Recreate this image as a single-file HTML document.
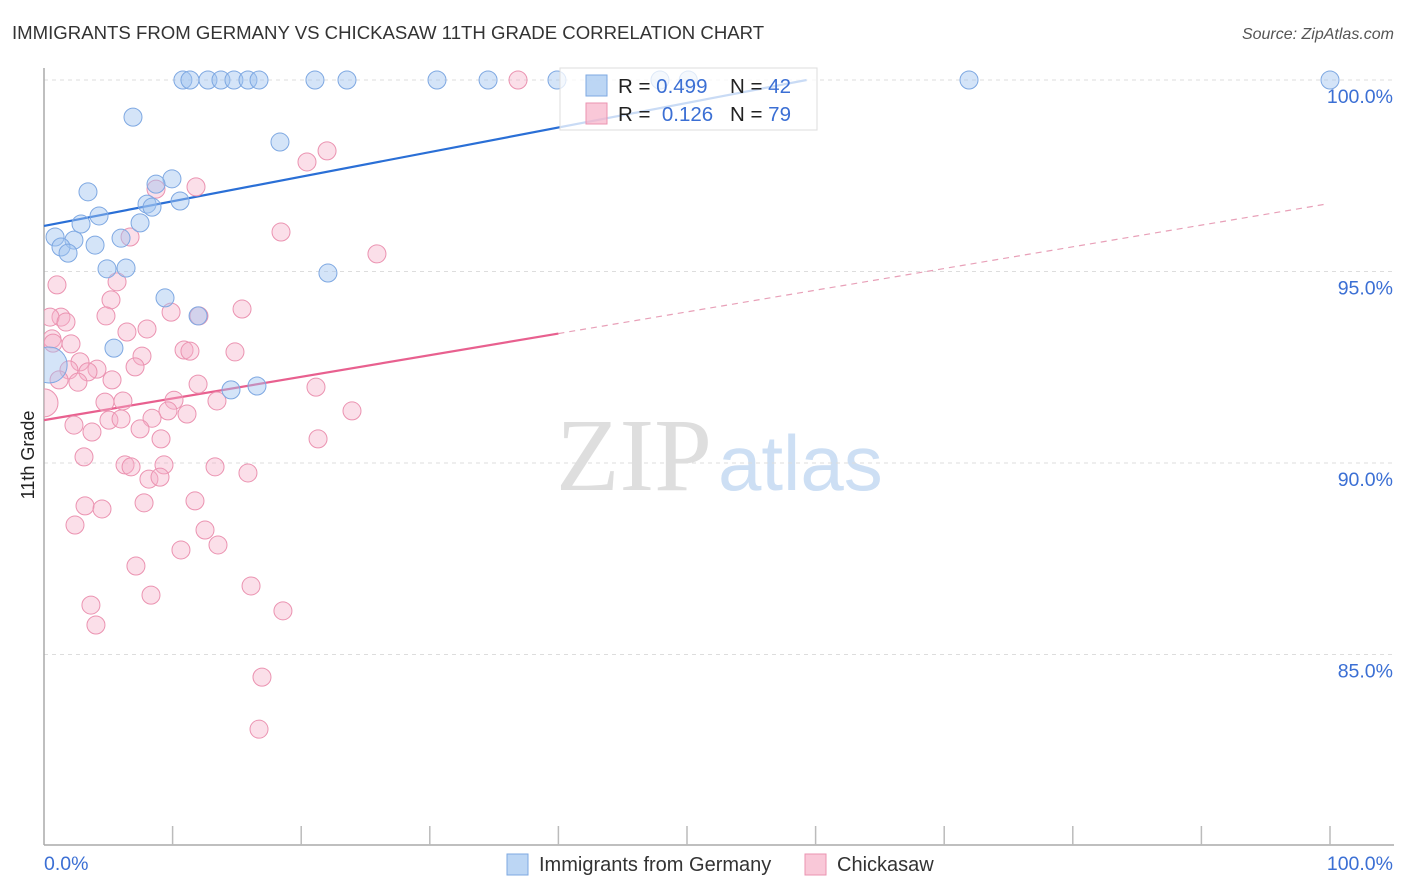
<!DOCTYPE html>
<html><head><meta charset="utf-8">
<style>
body{margin:0;background:#fff;font-family:"Liberation Sans",sans-serif;}
#wrap{position:relative;width:1406px;height:892px;overflow:hidden;}
svg{position:absolute;left:0;top:0;}
</style></head>
<body>
<div id="wrap">
<svg id="chart" width="1406" height="892">
  <defs><clipPath id="plotclip"><rect x="44" y="0" width="1362" height="845"/></clipPath></defs>
  <text x="12" y="39" font-size="18.6" fill="#333">IMMIGRANTS FROM GERMANY VS CHICKASAW 11TH GRADE CORRELATION CHART</text>
  <text x="1394" y="39" font-size="16" fill="#555" font-style="italic" text-anchor="end">Source: ZipAtlas.com</text>
  <text x="634" y="490" font-size="104" fill="#dedede" font-family="Liberation Serif, serif" text-anchor="middle">ZIP</text>
  <text x="718" y="490" font-size="78" fill="#cddff4">atlas</text>
  <text transform="translate(34,455) rotate(-90)" font-size="18" fill="#222" text-anchor="middle">11th Grade</text>
  <g id="grid"></g>
  <g id="axes"></g>
  <g id="lines"></g>
  <g id="points" clip-path="url(#plotclip)"></g>
  <g id="legend"></g>
</svg>
</div>
<script>
const blueX=[10.8,11.35,12.75,13.76,14.77,15.86,16.72,21.07,23.56,30.56,34.53,39.89,47.9,50.1,71.93,100,6.92,18.35,9.95,8.71,8.01,10.58,8.40,3.42,4.28,2.88,7.47,0.86,2.33,1.32,1.87,3.97,5.99,4.90,6.38,22.08,9.41,11.98,5.44,14.54,16.56,0.4];
const blueY=[100,100,100,100,100,100,100,100,100,100,100,100,100,100,100,100,99.03,98.38,97.42,97.28,96.76,96.84,96.68,97.08,96.45,96.24,96.27,95.90,95.82,95.64,95.48,95.69,95.87,95.07,95.09,94.96,94.31,93.84,93.00,91.91,92.01,92.56];
const blueR=[9,9,9,9,9,9,9,9,9,9,9,9,9,9,9,9,9,9,9,9,9,9,9,9,9,9,9,9,9,9,9,9,9,9,9,9,9,9,9,9,9,18];
const pinkX=[20.45,22.01,11.82,8.71,6.69,18.43,25.89,1.01,5.68,5.21,4.82,1.32,0.47,1.71,9.88,12.05,15.40,6.45,8.01,0.62,2.10,0.70,10.89,11.35,14.85,7.62,7.08,2.80,4.12,3.42,1.94,5.29,1.17,2.64,11.98,21.15,0.0,4.74,6.14,10.11,13.45,9.64,11.12,8.40,5.05,5.99,2.33,7.47,3.73,23.95,9.10,21.31,3.11,6.30,6.77,9.33,8.16,9.02,13.30,15.86,3.19,4.51,7.78,11.74,2.41,12.52,13.53,10.65,7.15,8.32,16.10,18.58,3.65,4.04,16.95,16.72,36.86];
const pinkY=[97.86,98.15,97.21,97.15,95.90,96.03,95.46,94.65,94.73,94.26,93.84,93.81,93.81,93.68,93.94,93.84,94.02,93.42,93.50,93.24,93.11,93.13,92.95,92.92,92.90,92.79,92.51,92.64,92.45,92.38,92.43,92.17,92.17,92.11,92.06,91.98,91.57,91.59,91.62,91.64,91.62,91.36,91.28,91.17,91.12,91.15,90.99,90.89,90.81,91.36,90.63,90.63,90.16,89.95,89.90,89.95,89.58,89.63,89.90,89.74,88.88,88.80,88.96,89.01,88.38,88.25,87.86,87.73,87.31,86.55,86.79,86.14,86.29,85.77,84.41,83.05,100];
const yTicks=[100,95,90,85];
const yTickLabels=["100.0%","95.0%","90.0%","85.0%"];
const blueLine=[[0,96.19],[59.3,100]];
const pinkLine=[[0,91.12],[40,93.38],[99.7,96.76]];

const NS="http://www.w3.org/2000/svg";
const xs=v=>44+v*12.86;
const ys=v=>80+(100-v)*38.3;
function mk(tag,attrs,parent){const e=document.createElementNS(NS,tag);for(const k in attrs)e.setAttribute(k,attrs[k]);parent.appendChild(e);return e;}
const grid=document.getElementById('grid'),axes=document.getElementById('axes'),lines=document.getElementById('lines'),pts=document.getElementById('points'),leg=document.getElementById('legend');

yTicks.forEach((t,i)=>{
  const l=mk('line',{x1:44,x2:1394,y1:ys(t),y2:ys(t),stroke:'#ddd','stroke-dasharray':'4,4'},grid);
  
  
  const tx=mk('text',{x:1393,y:ys(t)+23,'font-size':19.5,fill:'#3b6fd4','text-anchor':'end'},grid);
  tx.textContent=yTickLabels[i];
  
  
});
const ya=mk('line',{x1:44,x2:44,y1:68,y2:845,stroke:'#aaa','stroke-width':1.5},axes);


const xa=mk('line',{x1:44,x2:1394,y1:845,y2:845,stroke:'#aaa','stroke-width':1.5},axes);


for(let i=1;i<=10;i++){
  const t=mk('line',{x1:xs(i*10),x2:xs(i*10),y1:826,y2:845,stroke:'#bbb','stroke-width':1.5},axes);
  
  
}
const x0=mk('text',{x:44,y:870,'font-size':19.5,fill:'#3b6fd4'},axes);x0.textContent='0.0%';


const x1=mk('text',{x:1393,y:870,'font-size':19.5,fill:'#3b6fd4','text-anchor':'end'},axes);x1.textContent='100.0%';



pinkX.forEach((x,i)=>{
  const c=mk('circle',{cx:xs(x),cy:ys(pinkY[i]),r:i==36?14:9,fill:'rgba(246,176,200,0.4)',stroke:'#eb93b1','stroke-width':1},pts);
  
  
});
blueX.forEach((x,i)=>{
  const c=mk('circle',{cx:xs(x),cy:ys(blueY[i]),r:blueR[i],fill:'rgba(160,196,240,0.45)',stroke:'#7ea8e2','stroke-width':1},pts);
  
  
});
const bl=mk('line',{x1:xs(blueLine[0][0]),y1:ys(blueLine[0][1]),x2:xs(blueLine[1][0]),y2:ys(blueLine[1][1]),stroke:'#2a6fd6','stroke-width':2.2},lines);


const pl=mk('line',{x1:xs(pinkLine[0][0]),y1:ys(pinkLine[0][1]),x2:xs(pinkLine[1][0]),y2:ys(pinkLine[1][1]),stroke:'#e8608f','stroke-width':2.2},lines);


const pd=mk('line',{x1:xs(pinkLine[1][0]),y1:ys(pinkLine[1][1]),x2:xs(pinkLine[2][0]),y2:ys(pinkLine[2][1]),stroke:'#e8a0b8','stroke-width':1.2,'stroke-dasharray':'6,5'},lines);



const lb=mk('rect',{x:560,y:68,width:257,height:62,fill:'rgba(255,255,255,0.75)',stroke:'#ddd'},leg);


[[0,'rgba(160,196,240,0.7)','#7ea8e2','0.499','42'],[1,'rgba(246,176,200,0.7)','#eb93b1','0.126','79']].forEach(([k,f,s,r,n])=>{
  const y=75+k*28;
  const sq=mk('rect',{x:586,y:y,width:21,height:21,fill:f,stroke:s},leg);
  
  
  const t=mk('text',{x:618,y:y+18,'font-size':20.5,fill:'#222'},leg);
  t.innerHTML='R = <tspan fill="#3b6fd4">'+(k?'&#160;':'')+r+'</tspan><tspan x="730">N = </tspan><tspan fill="#3b6fd4">'+n+'</tspan>';
  
  
});
[[507,'rgba(160,196,240,0.7)','#7ea8e2','Immigrants from Germany'],[805,'rgba(246,176,200,0.7)','#eb93b1','Chickasaw']].forEach(([x,f,s,l])=>{
  const sq=mk('rect',{x:x,y:854,width:21,height:21,fill:f,stroke:s},leg);
  
  
  const t=mk('text',{x:x+32,y:871,'font-size':20,fill:'#333'},leg);
  t.textContent=l;
  
  
});
</script>
</body></html>
